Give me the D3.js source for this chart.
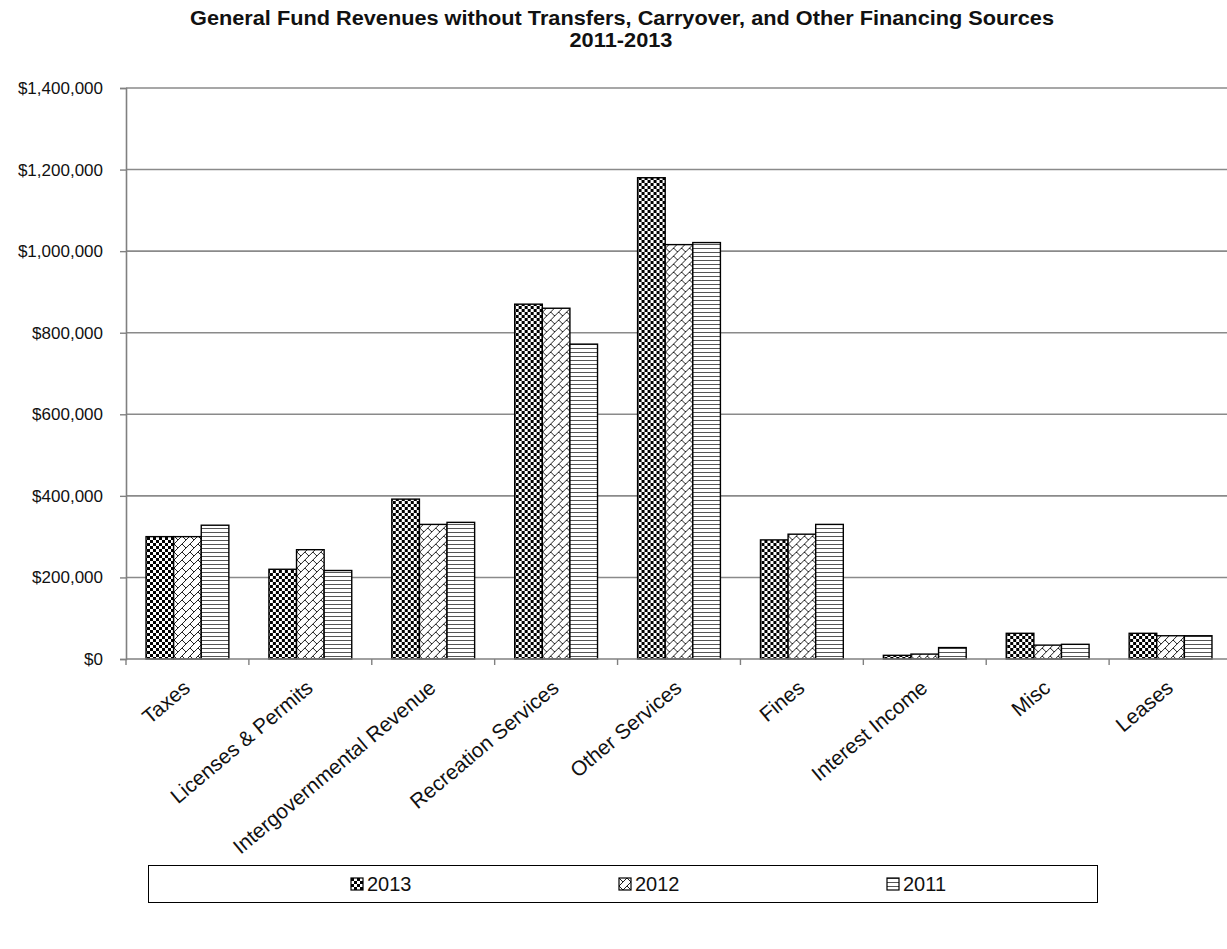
<!DOCTYPE html>
<html>
<head>
<meta charset="utf-8">
<script src="https://cdn.jsdelivr.net/npm/d3@7"></script>
<style>
  html, body { margin: 0; padding: 0; background: #fff; }
  svg { display: block; font-family: Arial, "Liberation Sans", sans-serif; }
</style>
</head>
<body>
<svg id="chart" width="1227" height="949"></svg>
<script>
// ---- data ----
const categories = ["Taxes", "Licenses & Permits", "Intergovernmental Revenue", "Recreation Services",
  "Other Services", "Fines", "Interest Income", "Misc", "Leases"];
const seriesNames = ["2013", "2012", "2011"];
const values2013 = [300000, 220000, 392000, 870000, 1180000, 292000, 9000, 63000, 63000];
const values2012 = [300000, 268000, 330000, 860000, 1016000, 306000, 12000, 34000, 57000];
const values2011 = [328000, 217000, 335000, 772000, 1021000, 330000, 28000, 36000, 57000];
const yTicks = [0, 200000, 400000, 600000, 800000, 1000000, 1200000, 1400000];
const titleLines = ["General Fund Revenues without Transfers, Carryover, and Other Financing Sources", "2011-2013"];

const seriesValues = { "2013": values2013, "2012": values2012, "2011": values2011 };
const patternId = { "2013": "p2013", "2012": "p2012", "2011": "p2011" };

const svg = d3.select("#chart");

// ---- patterns ----
const defs = svg.append("defs");
const p1 = defs.append("pattern").attr("id", "p2013").attr("patternUnits", "userSpaceOnUse")
  .attr("width", 6).attr("height", 6);
p1.append("rect").attr("width", 6).attr("height", 6).attr("fill", "#fff");
p1.append("rect").attr("x", 0).attr("y", 0).attr("width", 3).attr("height", 3).attr("fill", "#000");
p1.append("rect").attr("x", 3).attr("y", 3).attr("width", 3).attr("height", 3).attr("fill", "#000");

const p2 = defs.append("pattern").attr("id", "p2012").attr("patternUnits", "userSpaceOnUse")
  .attr("width", 8).attr("height", 8);
p2.append("rect").attr("width", 8).attr("height", 8).attr("fill", "#fff");
p2.append("path").attr("d", "M-1,9 L9,-1 M0,0 L4,4")
  .attr("stroke", "#222").attr("stroke-width", 1).attr("fill", "none");

const p3 = defs.append("pattern").attr("id", "p2011").attr("patternUnits", "userSpaceOnUse")
  .attr("width", 4).attr("height", 4);
p3.append("rect").attr("width", 4).attr("height", 4).attr("fill", "#fff");
p3.append("rect").attr("x", 0).attr("y", 0).attr("width", 4).attr("height", 1).attr("fill", "#555");

// ---- scales ----
const x0 = d3.scaleBand().domain(categories).range([126, 1232]).padding(0);
const bw = x0.bandwidth();
const groupPad = bw * 0.163;
const x1 = d3.scaleBand().domain(seriesNames).range([groupPad, bw - groupPad]).padding(0);
const y = d3.scaleLinear().domain([0, 1400000]).range([659, 88]);

// ---- title ----
svg.append("text").attr("x", 622).attr("y", 25).attr("text-anchor", "middle")
  .attr("font-weight", "bold").attr("font-size", 19.5).attr("fill", "#111")
  .attr("textLength", 864).attr("lengthAdjust", "spacingAndGlyphs")
  .text(titleLines[0]);
svg.append("text").attr("x", 621).attr("y", 47).attr("text-anchor", "middle")
  .attr("font-weight", "bold").attr("font-size", 19.5).attr("fill", "#111")
  .attr("textLength", 103).attr("lengthAdjust", "spacingAndGlyphs")
  .text(titleLines[1]);

// ---- gridlines ----
svg.append("g").selectAll("line").data(yTicks.filter(d => d > 0)).join("line")
  .attr("x1", 126).attr("x2", 1232)
  .attr("y1", d => y(d)).attr("y2", d => y(d))
  .attr("stroke", "#8a8a8a").attr("stroke-width", 1.6);

// ---- bars ----
const groups = svg.append("g").selectAll("g").data(categories).join("g")
  .attr("transform", d => `translate(${x0(d)},0)`);
groups.selectAll("rect")
  .data((c, i) => seriesNames.map(s => ({ s, v: seriesValues[s][i] })))
  .join("rect")
  .attr("x", d => x1(d.s))
  .attr("width", x1.bandwidth())
  .attr("y", d => y(d.v))
  .attr("height", d => y(0) - y(d.v))
  .attr("fill", d => `url(#${patternId[d.s]})`)
  .attr("stroke", "#000").attr("stroke-width", 1.4);

// ---- y axis ----
const yAxis = svg.append("g").attr("transform", "translate(126,0)")
  .call(d3.axisLeft(y).tickValues(yTicks).tickSize(6).tickPadding(17)
    .tickFormat(d => "$" + d3.format(",")(d)));
yAxis.select(".domain").attr("stroke", "#808080").attr("stroke-width", 1.6);
yAxis.selectAll(".tick line").attr("stroke", "#808080").attr("stroke-width", 1.4);
yAxis.selectAll(".tick text").attr("font-size", 17).attr("fill", "#111")
  .attr("font-family", "Arial, 'Liberation Sans', sans-serif");

// ---- x axis ----
const xAxis = svg.append("g");
xAxis.append("line").attr("x1", 126).attr("x2", 1232).attr("y1", y(0)).attr("y2", y(0))
  .attr("stroke", "#808080").attr("stroke-width", 1.6);
xAxis.selectAll("line.tk").data(categories.concat([null])).join("line").attr("class", "tk")
  .attr("x1", (d, i) => x0.range()[0] + i * bw).attr("x2", (d, i) => x0.range()[0] + i * bw)
  .attr("y1", y(0)).attr("y2", y(0) + 6)
  .attr("stroke", "#808080").attr("stroke-width", 1.4);
xAxis.selectAll("text").data(categories).join("text")
  .attr("transform", d => `translate(${x0(d) + bw / 2 + 4},${y(0) + 31}) rotate(-40)`)
  .attr("text-anchor", "end")
  .attr("font-size", 20.8).attr("fill", "#111")
  .text(d => d);

// ---- legend ----
const legend = svg.append("g");
legend.append("rect").attr("x", 148.5).attr("y", 865.5).attr("width", 949).attr("height", 37)
  .attr("fill", "#fff").attr("stroke", "#000").attr("stroke-width", 1);
const legendX = d3.scalePoint().domain(seriesNames).range([351, 887]);
const li = legend.selectAll("g.item").data(seriesNames).join("g").attr("class", "item")
  .attr("transform", d => `translate(${legendX(d)},878)`);
li.append("rect").attr("width", 12).attr("height", 12)
  .attr("fill", d => `url(#${patternId[d]})`).attr("stroke", "#000").attr("stroke-width", 1.2);
li.append("text").attr("x", 16).attr("y", 13).attr("font-size", 20).attr("fill", "#111")
  .text(d => d);
</script>
</body>
</html>
